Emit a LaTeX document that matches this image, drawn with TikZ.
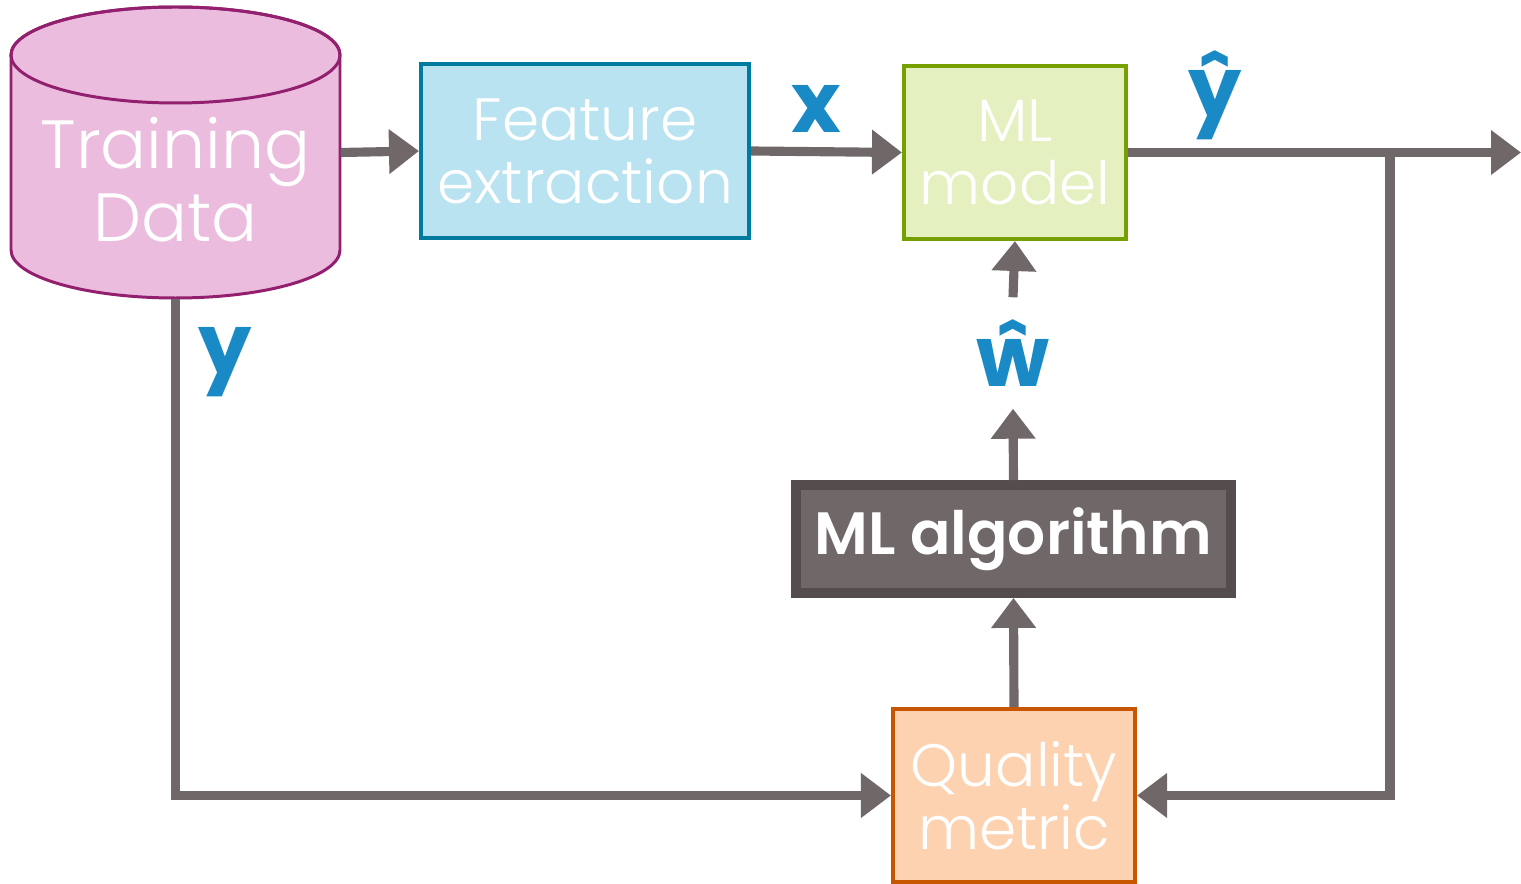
\documentclass[tikz,border=0pt]{standalone}
\usepackage{fontspec}
\setmainfont{Poppins}
\newfontfamily\lightfont{Poppins Light}
\newfontfamily\semifont{Poppins SemiBold}
\usepackage{tikz}
\usetikzlibrary{arrows.meta}
\usetikzlibrary{calc}

\definecolor{arrowgray}{HTML}{6F6768}
\definecolor{symblue}{HTML}{1A8AC6}
\definecolor{datafill}{HTML}{EBBCDD}
\definecolor{dataline}{HTML}{93206F}
\definecolor{featfill}{HTML}{B9E3F0}
\definecolor{featline}{HTML}{007BA0}
\definecolor{modelfill}{HTML}{E4F0C0}
\definecolor{modelline}{HTML}{76A000}
\definecolor{algofill}{HTML}{6F6768}
\definecolor{algoline}{HTML}{544C4D}
\definecolor{qualfill}{HTML}{FDD2B0}
\definecolor{qualline}{HTML}{C85500}

\begin{document}
\begin{tikzpicture}[box node/.style={rectangle,draw,line width=1.15pt,text=white,align=center,font=\lightfont\fontsize{17}{18}\selectfont},
  flow/.style={draw=arrowgray,line width=2.6pt,-{Triangle[length=3mm,width=4.3mm]}},
  sym node/.style={text=symblue,font=\bfseries\fontsize{24}{28}\selectfont}]
  \useasboundingbox (0,0) rectangle (15.21,-8.84);
  \filldraw[fill=datafill,draw=dataline,line width=0.85pt] (0.11,-0.55) -- (0.11,-2.50) arc (180:360:1.645 and 0.48) -- (3.40,-0.55) arc (0:180:1.645 and 0.48) -- cycle;
  \draw[dataline,line width=0.85pt] (1.755,-0.55) ellipse (1.645 and 0.48);
  \node[text=white,align=center,minimum width=3.29cm,minimum height=2.91cm,font=\lightfont\fontsize{19.4}{21}\selectfont] (data) at (1.755,-1.525) {\\[9pt]Training\\Data};
  \node[box node,fill=featfill,draw=featline,minimum width=3.28cm,minimum height=1.74cm] (feat) at (5.85,-1.51) {Feature\\extraction};
  \node[box node,fill=modelfill,draw=modelline,minimum width=2.22cm,minimum height=1.73cm] (model) at (10.15,-1.525) {ML\\model};
  \node[box node,fill=algofill,draw=algoline,line width=2.8pt,minimum width=4.35cm,minimum height=1.08cm,font=\semifont\fontsize{17}{20.5}\selectfont] (algo) at (10.135,-5.39) {ML algorithm};
  \node[box node,fill=qualfill,draw=qualline,minimum width=2.42cm,minimum height=1.73cm] (qual) at (10.14,-7.955) {Quality\\metric};
  \node[sym node,minimum height=1.10cm] (what) at (10.13,-3.53) {ŵ};
  \node[sym node] (xlab) at (8.16,-1.09) {x};
  \node[sym node] (yhat) at (12.15,-0.95) {ŷ};
  \node[sym node] (ylab) at (2.25,-3.62) {y};
  \coordinate (yout) at (15.21,-1.525);
  \coordinate (tap) at (13.90,-1.525);

  \draw[flow] (data.east) -- (feat.west);
  \draw[flow] (feat.east) -- (model.west);
  \draw[flow] (model.east) -- (yout);
  \draw[flow] (tap) |- (qual.east);
  \draw[flow] (data.south) |- (qual.west);
  \draw[flow] (qual.north) -- (algo.south);
  \draw[flow] (algo.north) -- (what.south);
  \draw[flow] (what.north) -- (model.south);

\end{tikzpicture}
\end{document}
